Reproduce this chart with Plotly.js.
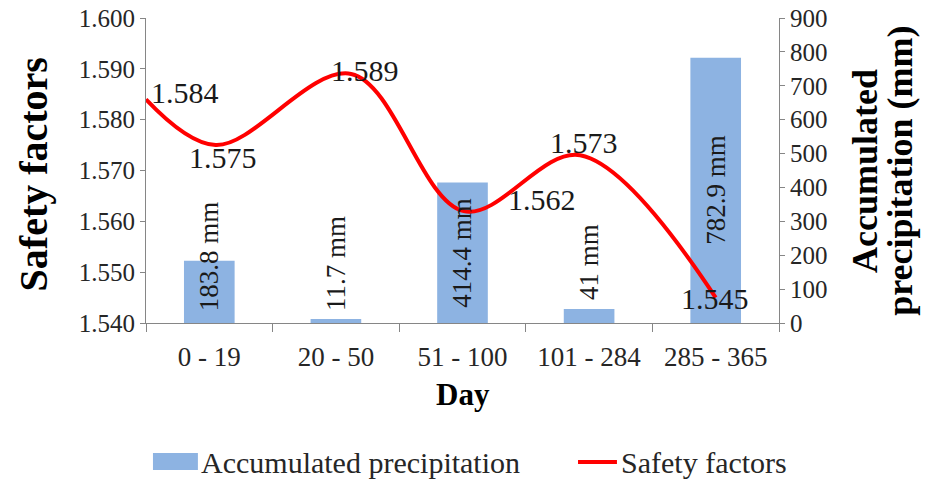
<!DOCTYPE html>
<html>
<head>
<meta charset="utf-8">
<script src="https://cdn.plot.ly/plotly-3.0.1.min.js"></script>
<style>
  html, body { margin: 0; padding: 0; background: #fff; }
  #chart { width: 927px; height: 480px; }
</style>
</head>
<body>
<div id="chart"></div>
<script>
// Day ranges of the monitoring year
const dayRanges = ['0 - 19', '20 - 50', '51 - 100', '101 - 284', '285 - 365'];

// Accumulated precipitation per period (mm)
const precipitation = [183.8, 11.7, 414.4, 41, 782.9];

// Safety factor readings and where each sits along the day axis (category units)
const safetyX = [-0.5, 0.05, 1.12, 2.01, 2.93, 4.0];
const safetyFactors = [1.584, 1.575, 1.589, 1.562, 1.573, 1.545];

// Axis tick labels
const safetyTicks = ['1.540', '1.550', '1.560', '1.570', '1.580', '1.590', '1.600'];
const precipTicks = ['0', '100', '200', '300', '400', '500', '600', '700', '800', '900'];

const FONT = 'Liberation Serif, Times New Roman, serif';
const AXIS_GRAY = '#868686';
const TEXT = '#262626';

// label placement: pixel offsets from each reading, heights of the bar captions
const sfShift = [[3, 7, 'left'], [7, -12, 'center'], [14, 3, 'center'],
                 [42, 12, 'left'], [4, 13, 'center'], [-1, -1, 'center']];
const barLabelAt = [198, 177, 206, 180, 392];

const catIndex = dayRanges.map((_, i) => i);
const catBounds = dayRanges.concat(['']).map((_, i) => i - 0.5);

// precipitation bars on the right-hand axis (drawn first, underneath)
const bars = {
  type: 'bar',
  name: 'Accumulated precipitation',
  x: catIndex,
  y: precipitation,
  yaxis: 'y',
  marker: { color: '#8DB3E2', line: { width: 0 } },
  width: 0.4,
  showlegend: false
};

// smoothed safety factor curve on the left-hand axis (drawn on top)
const line = {
  type: 'scatter',
  mode: 'lines',
  name: 'Safety factors',
  x: safetyX,
  y: safetyFactors,
  yaxis: 'y2',
  line: { color: '#FF0000', width: 4, shape: 'spline', smoothing: 1 },
  cliponaxis: false,
  showlegend: false
};

const annotations = [];
safetyFactors.forEach((v, i) => {
  annotations.push({
    xref: 'x', yref: 'y2', x: safetyX[i], y: v,
    text: v.toFixed(3), showarrow: false,
    xanchor: sfShift[i][2], yanchor: 'middle',
    xshift: sfShift[i][0], yshift: sfShift[i][1],
    font: { family: FONT, size: 30, color: '#1a1a1a' }
  });
});
precipitation.forEach((v, i) => {
  annotations.push({
    xref: 'x', yref: 'y', x: catIndex[i], y: barLabelAt[i],
    text: v + ' mm', showarrow: false, textangle: -90,
    xanchor: 'center', yanchor: 'middle',
    font: { family: FONT, size: 27, color: '#1a1a1a' }
  });
});

// axis titles
const title = (x, y, text, size, angle) => ({
  xref: 'paper', yref: 'paper', x: x, y: y, xanchor: 'center', yanchor: 'middle',
  textangle: angle, showarrow: false, text: '<b>' + text + '</b>',
  font: { family: FONT, size: size, color: '#000' }
});
annotations.push(
  title(-0.177, 0.487, 'Safety factors', 40, -90),
  title(1.135, 0.5, 'Accumulated', 36, -90),
  title(1.19, 0.5, 'precipitation (mm)', 36, -90),
  title(0.5, -0.236, 'Day', 31, 0)
);

// legend entries
annotations.push(
  { xref: 'paper', yref: 'paper', x: 0.083, y: -0.456, xanchor: 'left', yanchor: 'middle',
    showarrow: false, text: bars.name, font: { family: FONT, size: 30, color: TEXT } },
  { xref: 'paper', yref: 'paper', x: 0.747, y: -0.456, xanchor: 'left', yanchor: 'middle',
    showarrow: false, text: line.name, font: { family: FONT, size: 30, color: TEXT } }
);
const shapes = [
  { type: 'rect', xref: 'paper', yref: 'paper', x0: 0.011, x1: 0.082, y0: -0.482, y1: -0.426,
    fillcolor: bars.marker.color, line: { width: 0 } },
  { type: 'line', xref: 'paper', yref: 'paper', x0: 0.6825, x1: 0.744, y0: -0.456, y1: -0.456,
    line: { color: line.line.color, width: 4 } }
];

const axisCommon = {
  ticks: 'outside',
  ticklen: 5,
  tickcolor: AXIS_GRAY,
  showline: true,
  linecolor: AXIS_GRAY,
  showgrid: false,
  zeroline: false,
  tickfont: { family: FONT, size: 25, color: TEXT }
};

const layout = {
  width: 927,
  height: 480,
  margin: { l: 146, r: 148, t: 18, b: 157 },
  paper_bgcolor: '#ffffff',
  plot_bgcolor: '#ffffff',
  font: { family: FONT, size: 25, color: TEXT },
  showlegend: false,
  xaxis: {
    range: [-0.5, 4.5],
    tickvals: catIndex,
    ticktext: dayRanges,
    ticks: 'outside',
    ticklen: 10,
    tickcolor: 'rgba(0,0,0,0)',
    minor: { tickvals: catBounds, ticks: 'outside', ticklen: 8, tickcolor: AXIS_GRAY, showgrid: false },
    showline: true,
    linecolor: AXIS_GRAY,
    linewidth: 1,
    showgrid: false,
    zeroline: false,
    tickfont: { family: FONT, size: 27, color: TEXT }
  },
  yaxis: Object.assign({}, axisCommon, {
    side: 'right',
    range: [0, 900],
    tickvals: precipTicks.map(Number),
    ticktext: precipTicks
  }),
  yaxis2: Object.assign({}, axisCommon, {
    overlaying: 'y',
    side: 'left',
    range: [1.54, 1.60],
    tickvals: safetyTicks.map(Number),
    ticktext: safetyTicks
  }),
  shapes: shapes,
  annotations: annotations
};

Plotly.newPlot('chart', [bars, line], layout, { displayModeBar: false, staticPlot: true });
</script>
</body>
</html>
